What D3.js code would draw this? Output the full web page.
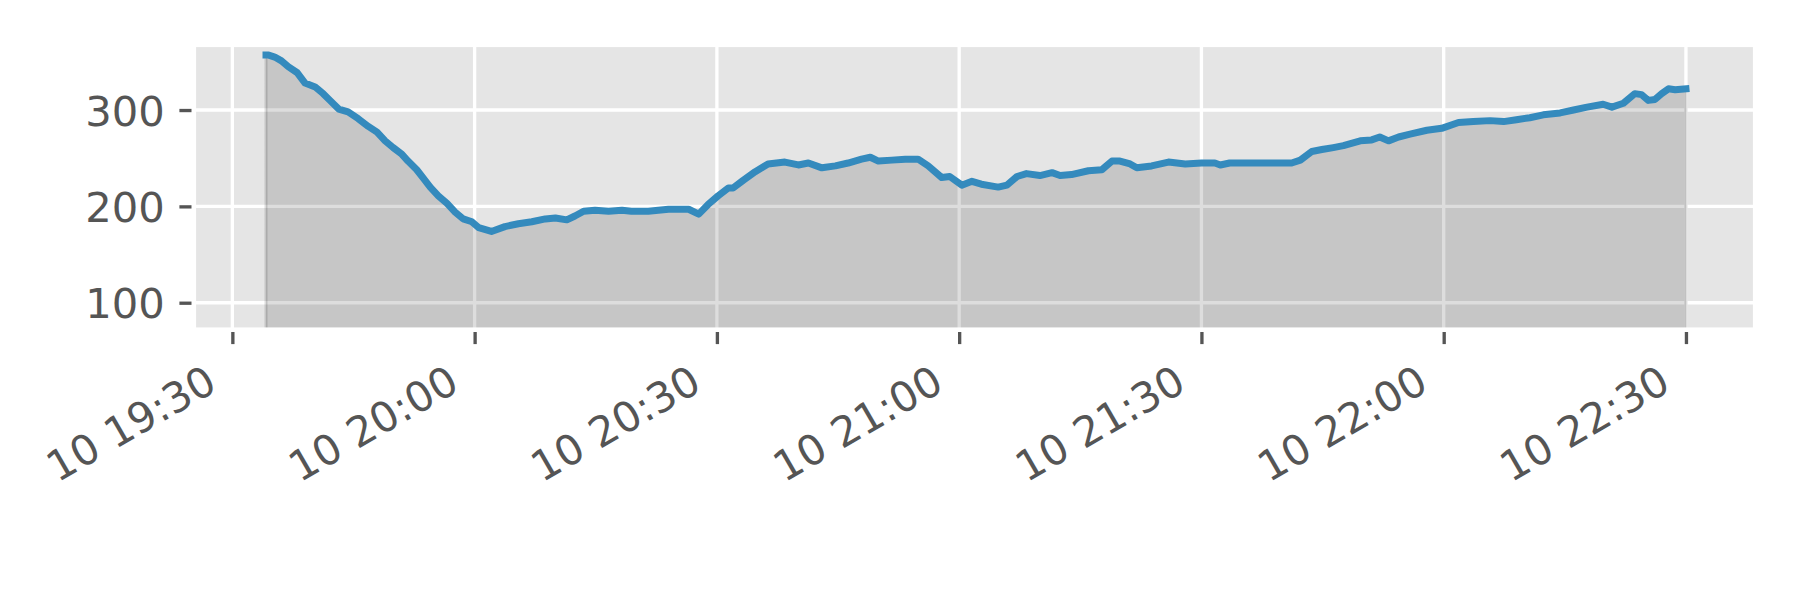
<!doctype html>
<html>
<head>
<meta charset="utf-8">
<title>area line chart</title>
<script src="https://d3js.org/d3.v7.min.js"></script>
<style>
body { margin: 0; background: #fff; }
.axis text { font: 41.67px "DejaVu Sans", sans-serif; fill: #555555; }
.axis line { stroke: #555555; stroke-width: 3.33px; }
.axis path { display: none; }
</style>
</head>
<body>
<svg width="1800" height="600"></svg>
<script>

var day = "2017-01-10 ";

var times = [
  "19:34:10","19:34:30","19:35:15","19:36:05","19:36:55","19:38:00","19:39:00","19:40:15",
  "19:41:15","19:42:05","19:43:10","19:44:20","19:45:35","19:46:50","19:47:55","19:48:55",
  "19:49:55","19:51:00","19:51:45","19:52:50","19:53:40","19:54:30","19:55:30","19:56:35",
  "19:57:35","19:58:35","19:59:40","20:00:30","20:02:05","20:03:45","20:05:25","20:07:05",
  "20:08:45","20:10:00","20:11:25","20:12:25","20:13:30","20:14:55","20:16:35","20:18:15",
  "20:19:25","20:21:30","20:24:00","20:26:30","20:27:45","20:28:55","20:30:10","20:31:25",
  "20:32:00","20:33:15","20:34:45","20:36:20","20:38:25","20:40:05","20:41:20","20:43:00",
  "20:44:40","20:46:15","20:47:55","20:49:00","20:50:00","20:51:40","20:53:20","20:54:55",
  "20:56:10","20:57:50","20:58:50","21:00:20","21:01:35","21:02:45","21:04:50","21:05:55",
  "21:07:10","21:08:20","21:10:00","21:11:30","21:12:30","21:13:55","21:16:00","21:17:40",
  "21:18:55","21:19:55","21:21:10","21:22:00","21:23:50","21:25:55","21:28:00","21:30:00",
  "21:31:40","21:32:20","21:33:30","21:35:00","21:37:00","21:39:05","21:41:10","21:42:15",
  "21:43:40","21:44:55","21:46:20","21:47:35","21:49:40","21:51:05","21:52:05","21:53:10",
  "21:54:25","21:55:50","21:57:55","21:59:45","22:01:50","22:03:40","22:05:45","22:07:25",
  "22:09:00","22:10:40","22:12:20","22:14:25","22:16:05","22:17:45","22:19:45","22:20:50",
  "22:22:15","22:23:40","22:24:30","22:25:20","22:26:10","22:27:00","22:27:50","22:28:40",
  "22:30:00"
];

var values = [
  357,357,355,351,345,339,328,324,
  317,310,301,298,291,283,277,268,
  261,254,247,238,229,220,211,203,
  194,187,184,178,174,179,182,184,
  187,188,186,190,195,196,195,196,
  195,195,197,197,192,202,211,219,
  219,227,236,244,246,243,245,240,
  242,245,249,251,247,248,249,249,
  242,230,231,222,226,223,220,222,
  231,234,232,235,232,233,237,238,
  247,247,244,240,242,246,244,245,
  245,243,245,245,245,245,245,248,
  257,259,261,263,268,269,272,268,
  272,275,279,281,287,288,289,288,
  290,292,295,297,300,303,306,303,
  307,317,316,310,311,317,322,321,
  322
];

var xTicks = ["19:30:00","20:00:00","20:30:00","21:00:00","21:30:00","22:00:00","22:30:00"];
var yTicks = [100, 200, 300];
var xLimits = ["19:25:15", "22:38:33"];
var yLimits = [72.2, 367.5];

var parse = d3.timeParse("%Y-%m-%d %H:%M:%S");
var fmt = d3.timeFormat("%d %H:%M");

var data = times.map(function(t, i) { return {t: parse(day + t), v: values[i]}; });

var svg = d3.select("svg"),
    margin = {top: 45, right: 45, bottom: 270.5, left: 194},
    width = +svg.attr("width") - margin.left - margin.right,
    height = +svg.attr("height") - margin.top - margin.bottom;

var x = d3.scaleTime()
    .domain(xLimits.map(function(t) { return parse(day + t); }))
    .range([0, width]);
var y = d3.scaleLinear().domain(yLimits).range([height, 0]);

var g = svg.append("g")
    .attr("transform", "translate(" + margin.left + "," + margin.top + ")");

// axes background
g.append("rect")
    .attr("width", width)
    .attr("height", height)
    .attr("fill", "#E5E5E5");

var tickDates = xTicks.map(function(t) { return parse(day + t); });

// grid
g.selectAll(".vgrid")
    .data(tickDates)
  .enter().append("line")
    .attr("x1", function(d) { return x(d); })
    .attr("x2", function(d) { return x(d); })
    .attr("y1", 0)
    .attr("y2", height)
    .attr("stroke", "#fff")
    .attr("stroke-width", 3.33);

g.selectAll(".hgrid")
    .data(yTicks)
  .enter().append("line")
    .attr("x1", 0)
    .attr("x2", width)
    .attr("y1", function(d) { return y(d); })
    .attr("y2", function(d) { return y(d); })
    .attr("stroke", "#fff")
    .attr("stroke-width", 3.33);

// filled area under the line
var area = d3.area()
    .x(function(d) { return x(d.t); })
    .y0(y(yLimits[0]))
    .y1(function(d) { return y(d.v); });

g.append("path")
    .datum(data)
    .attr("d", area)
    .attr("fill", "#000")
    .attr("fill-opacity", 0.135)
    .attr("stroke", "#000")
    .attr("stroke-opacity", 0.135)
    .attr("stroke-width", 3);

var line = d3.line()
    .x(function(d) { return x(d.t); })
    .y(function(d) { return y(d.v); });

g.append("path")
    .datum(data)
    .attr("d", line)
    .attr("fill", "none")
    .attr("stroke", "#348ABD")
    .attr("stroke-width", 7)
    .attr("stroke-linejoin", "round")
    .attr("stroke-linecap", "square");

// white spines
g.append("rect")
    .attr("width", width)
    .attr("height", height)
    .attr("fill", "none")
    .attr("stroke", "#fff")
    .attr("stroke-width", 4.17);

// axes
var xAxis = g.append("g")
    .attr("class", "x axis")
    .attr("transform", "translate(0," + height + ")")
    .call(d3.axisBottom(x).tickValues(tickDates).tickFormat(fmt).tickSize(14.6));

xAxis.selectAll("line").attr("y1", 2.5);

xAxis.selectAll("text")
    .attr("x", 0)
    .attr("y", 0)
    .attr("dy", 0)
    .attr("text-anchor", "end")
    .attr("transform", "translate(-14,60) rotate(-30)");

var yAxis = g.append("g")
    .attr("class", "y axis")
    .call(d3.axisLeft(y).tickValues(yTicks).tickSize(14.6).tickPadding(14.6));

yAxis.selectAll("line").attr("x1", -2.5);
yAxis.selectAll("text").attr("dy", "0.36em");

</script>
</body>
</html>
